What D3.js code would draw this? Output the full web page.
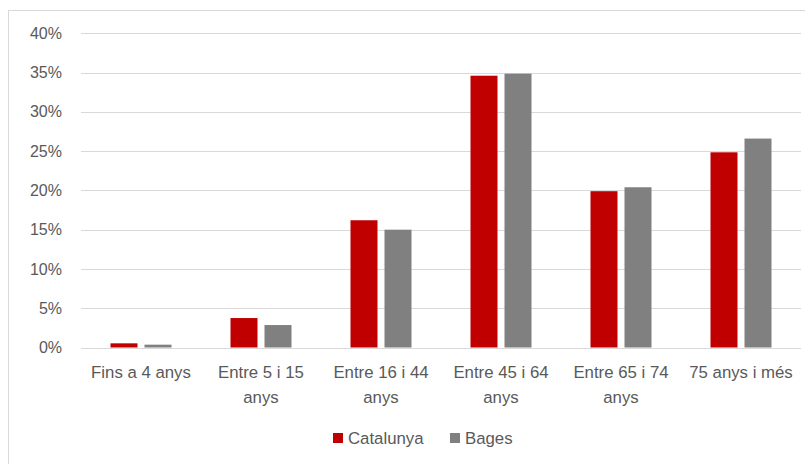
<!DOCTYPE html>
<html><head><meta charset="utf-8">
<script src="https://cdn.jsdelivr.net/npm/d3@7"></script>
<style>body{margin:0;background:#fff}svg{display:block}</style>
</head><body>
<svg id="c" width="805" height="464"></svg>
<script>
const categories = [["Fins a 4 anys"], ["Entre 5 i 15", "anys"], ["Entre 16 i 44", "anys"], ["Entre 45 i 64", "anys"], ["Entre 65 i 74", "anys"], ["75 anys i més"]];
const seriesNames = ["Catalunya", "Bages"];
const catalunya = [0.53, 3.75, 16.2, 34.6, 19.9, 24.85];
const bages = [0.36, 2.86, 15.0, 34.86, 20.4, 26.6];
const yTicks = [0, 5, 10, 15, 20, 25, 30, 35, 40];
const colors = ["#C00000", "#808080"];

const svg = d3.select("#c");
const font = "Liberation Sans, Arial, sans-serif";
const textColor = "#595959";
const fs = 16.8;

// frame
svg.append("rect").attr("x", 8.5).attr("y", 10.5).attr("width", 900).attr("height", 600)
  .attr("fill", "none").attr("stroke", "#d9d9d9").attr("stroke-width", 1);

const pLeft = 81, pRight = 801, pTop = 33.3, pBottom = 347.5;
const x = d3.scaleBand().domain(d3.range(categories.length)).range([pLeft, pRight]);
const y = d3.scaleLinear().domain([0, 40]).range([pBottom, pTop]);

// grid
svg.append("g").selectAll("line").data(yTicks).join("line")
  .attr("x1", pLeft).attr("x2", pRight)
  .attr("y1", d => Math.round(y(d)) + 0.5).attr("y2", d => Math.round(y(d)) + 0.5)
  .attr("stroke", "#d9d9d9").attr("stroke-width", 1.2);

// y labels
svg.append("g").selectAll("text").data(yTicks).join("text")
  .attr("x", 62).attr("y", d => y(d)).attr("dy", "0.35em")
  .attr("text-anchor", "end").attr("font-family", font).attr("font-size", fs - 0.8)
  .attr("fill", textColor).text(d => d + "%");

// bars
const barW = 27, gap = 7;
const series = [catalunya, bages];
series.forEach((vals, si) => {
  svg.append("g").selectAll("rect").data(vals).join("rect")
    .attr("x", (d, i) => x(i) + x.bandwidth() / 2 - gap / 2 - barW + si * (barW + gap))
    .attr("width", barW)
    .attr("y", d => y(d))
    .attr("height", d => y(0) - y(d))
    .attr("fill", colors[si]);
});

// x labels
const xl = svg.append("g").selectAll("text").data(categories).join("text")
  .attr("x", (d, i) => x(i) + x.bandwidth() / 2)
  .attr("y", 378)
  .attr("text-anchor", "middle").attr("font-family", font).attr("font-size", fs)
  .attr("fill", textColor);
xl.each(function(d, i) {
  const t = d3.select(this);
  d.forEach((line, li) => {
    t.append("tspan").attr("x", x(i) + x.bandwidth() / 2).attr("dy", li === 0 ? 0 : 25).text(line);
  });
});

// legend
const legend = svg.append("g");
const legendItems = [{name: seriesNames[0], x: 333}, {name: seriesNames[1], x: 450}];
legendItems.forEach((it, i) => {
  legend.append("rect").attr("x", it.x).attr("y", 433).attr("width", 10).attr("height", 10).attr("fill", colors[i]);
  legend.append("text").attr("x", it.x + 15).attr("y", 438).attr("dy", "0.35em")
    .attr("font-family", font).attr("font-size", fs).attr("fill", textColor).text(it.name);
});
</script>
</body></html>
